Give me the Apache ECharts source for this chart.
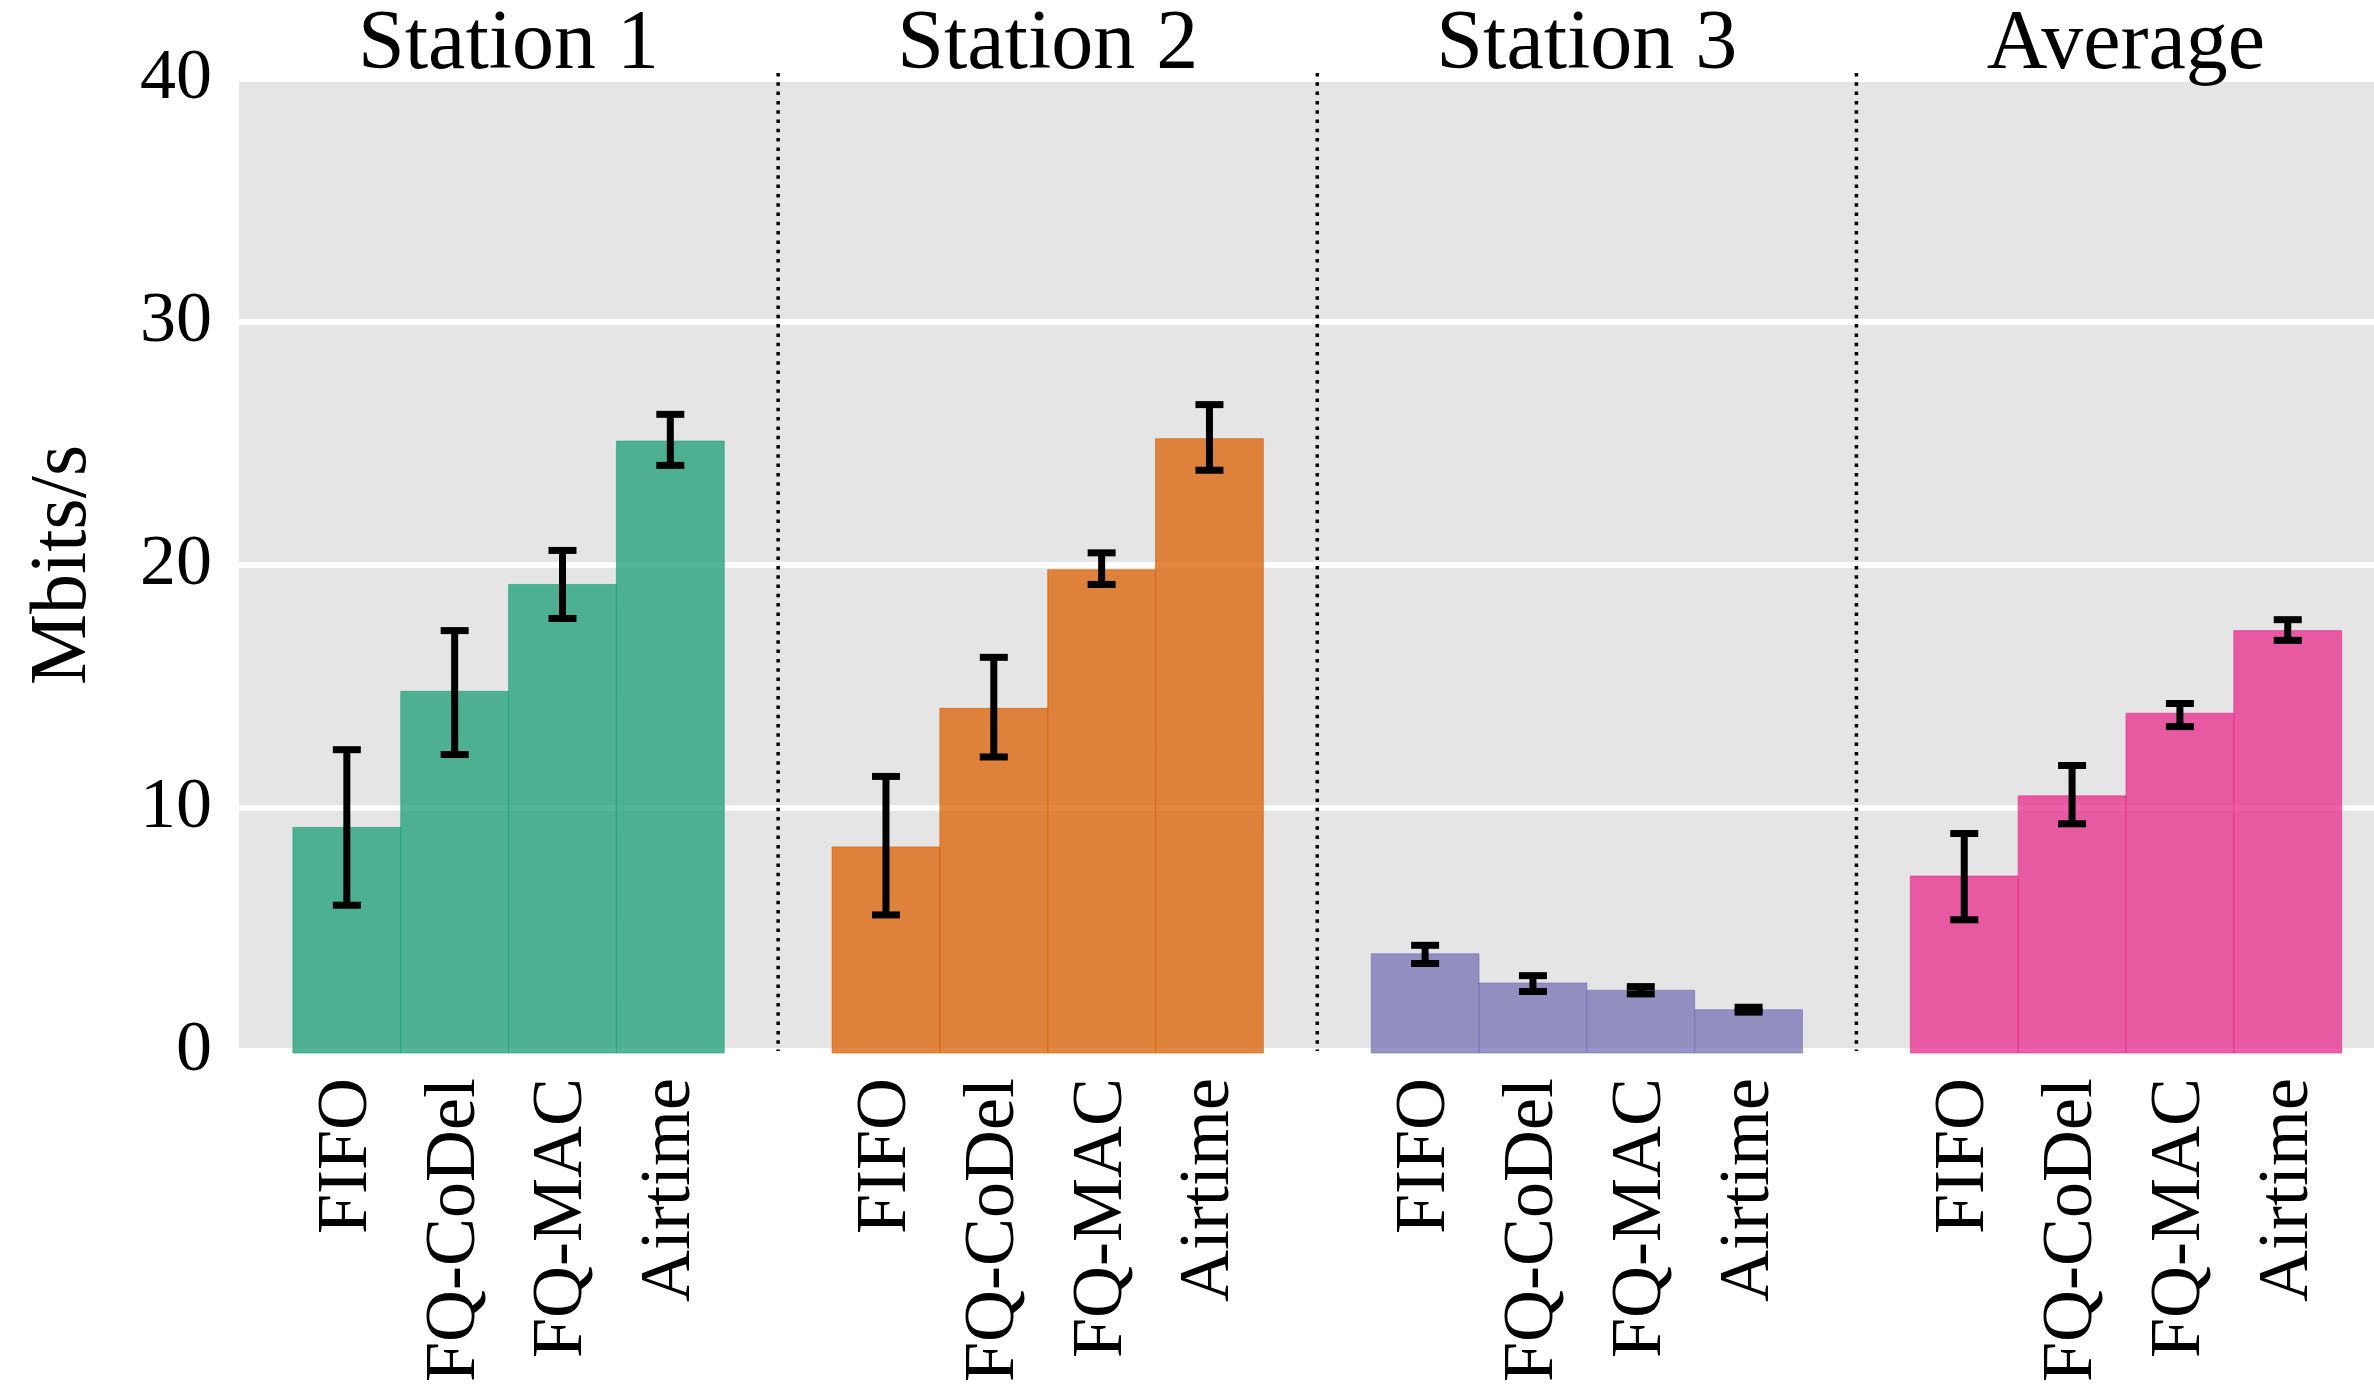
<!DOCTYPE html>
<html>
<head>
<meta charset="utf-8">
<script src="https://cdn.jsdelivr.net/npm/echarts@6/dist/echarts.min.js"></script>
<style>
  html, body { margin: 0; padding: 0; background: #ffffff; }
  #chart { width: 2374px; height: 1395px; }
</style>
</head>
<body>
<div id="chart"></div>
<script>
// Queueing schemes compared within every group
const methods = ['FIFO', 'FQ-CoDel', 'FQ-MAC', 'Airtime'];
// Group headings
const groups = ['Station 1', 'Station 2', 'Station 3', 'Average'];
// Y axis ticks (Mbits/s) and title
const yTicks = [0, 10, 20, 30, 40];
const yTitle = 'Mbits/s';

// Mean throughput per scheme, with lower / upper error-bar bounds
const station1Mean = [9.2, 14.8, 19.2, 25.1];
const station1Low  = [6.0, 12.2, 17.8, 24.1];
const station1High = [12.4, 17.3, 20.6, 26.2];

const station2Mean = [8.4, 14.1, 19.8, 25.2];
const station2Low  = [5.6, 12.1, 19.2, 23.9];
const station2High = [11.3, 16.2, 20.5, 26.6];

const station3Mean = [4.0, 2.8, 2.5, 1.7];
const station3Low  = [3.6, 2.45, 2.35, 1.6];
const station3High = [4.35, 3.1, 2.65, 1.8];

const averageMean = [7.2, 10.5, 13.9, 17.3];
const averageLow  = [5.4, 9.35, 13.35, 16.9];
const averageHigh = [8.95, 11.75, 14.3, 17.75];

const groupData = [
  [station1Mean, station1Low, station1High],
  [station2Mean, station2Low, station2High],
  [station3Mean, station3Low, station3High],
  [averageMean, averageLow, averageHigh]
];

const baseColors = ['#1b9e77', '#d95f02', '#7570b3', '#e7298a'];
const fillColors = ['rgba(27,158,119,0.75)', 'rgba(217,95,2,0.75)', 'rgba(117,112,179,0.75)', 'rgba(231,41,138,0.75)'];

const SLOTS_PER_GROUP = 5;
const FONT = 'Liberation Serif';

// each group: half-slot gap, four bars, half-slot gap
function slotX(g, k) { return g * SLOTS_PER_GROUP + 1 + k; }

const barSeries = groupData.map(function (d, g) {
  const rows = methods.map(function (m, k) {
    return [slotX(g, k), d[0][k], d[1][k], d[2][k]];
  });
  return {
    type: 'custom',
    name: groups[g],
    data: rows,
    z: 3,
    clip: false,
    renderItem: function (params, api) {
      const x = api.value(0), v = api.value(1), lo = api.value(2), hi = api.value(3);
      const tl = api.coord([x - 0.5, v]);
      const br = api.coord([x + 0.5, 0]);
      const pl = api.coord([x, lo]);
      const ph = api.coord([x, hi]);
      const cap = 14;
      const lw = 7;
      return {
        type: 'group',
        children: [
          { type: 'rect',
            shape: { x: tl[0], y: tl[1], width: br[0] - tl[0], height: br[1] - tl[1] + 2 },
            style: { fill: fillColors[g], stroke: baseColors[g], lineWidth: 1, strokeOpacity: 0.6 } },
          { type: 'line',
            shape: { x1: pl[0], y1: pl[1], x2: ph[0], y2: ph[1] },
            style: { stroke: '#000', lineWidth: lw } },
          { type: 'line',
            shape: { x1: pl[0] - cap, y1: pl[1], x2: pl[0] + cap, y2: pl[1] },
            style: { stroke: '#000', lineWidth: lw } },
          { type: 'line',
            shape: { x1: ph[0] - cap, y1: ph[1], x2: ph[0] + cap, y2: ph[1] },
            style: { stroke: '#000', lineWidth: lw } }
        ]
      };
    }
  };
});

// dotted separators between the groups
const separatorSeries = {
  type: 'custom',
  data: [1, 2, 3].map(function (i) { return [i * SLOTS_PER_GROUP]; }),
  z: 2,
  clip: false,
  silent: true,
  renderItem: function (params, api) {
    const x = api.value(0);
    const top = api.coord([x, 40]);
    const bot = api.coord([x, 0]);
    return {
      type: 'line',
      shape: { x1: top[0], y1: top[1] - 6, x2: bot[0], y2: bot[1] },
      style: { stroke: '#000', lineWidth: 3.5, lineDash: [3.5, 5.8] }
    };
  }
};

// group headings above the plot area
const titleSeries = {
  type: 'custom',
  data: groups.map(function (name, g) { return [g * SLOTS_PER_GROUP + 2.5, name]; }),
  z: 4,
  clip: false,
  silent: true,
  renderItem: function (params, api) {
    const p = api.coord([api.value(0), 40]);
    return {
      type: 'text',
      style: {
        x: p[0], y: p[1] - 33,
        text: groups[params.dataIndex],
        fill: '#000',
        font: '84px "Liberation Serif"',
        textAlign: 'center',
        textVerticalAlign: 'middle'
      }
    };
  }
};

// vertical y-axis title, centred on the value range
const yTitleSeries = {
  type: 'custom',
  data: [[0, 20]],
  z: 4,
  clip: false,
  silent: true,
  renderItem: function (params, api) {
    const p = api.coord([0, 20]);
    return {
      type: 'text',
      x: p[0] - 175,
      y: p[1],
      rotation: Math.PI / 2,
      style: {
        x: 0, y: 0,
        text: yTitle,
        fill: '#000',
        font: '80px "Liberation Serif"',
        textAlign: 'center',
        textVerticalAlign: 'middle'
      }
    };
  }
};

const chart = echarts.init(document.getElementById('chart'), null, { renderer: 'canvas' });
chart.setOption({
  animation: false,
  backgroundColor: '#ffffff',
  textStyle: { fontFamily: FONT },
  grid: { left: 239, right: 0, top: 79, bottom: 344, show: true, backgroundColor: '#e5e5e5', borderWidth: 0 },
  xAxis: {
    type: 'value',
    min: 0,
    max: 19.8,
    interval: 1,
    axisLine: { show: false },
    axisTick: { show: false },
    splitLine: { show: false },
    axisLabel: {
      rotate: 90,
      margin: 27,
      color: '#000',
      fontFamily: FONT,
      fontSize: 72,
      showMaxLabel: false,
      formatter: function (val) {
        const i = Math.round(val);
        if (Math.abs(val - i) > 0.01) return '';
        const slot = i % SLOTS_PER_GROUP;
        if (slot === 0) return '';
        return methods[slot - 1];
      }
    }
  },
  yAxis: {
    type: 'value',
    min: yTicks[0],
    max: yTicks[yTicks.length - 1],
    interval: 10,
    axisLine: { show: false },
    axisTick: { show: false },
    axisLabel: { color: '#000', fontFamily: FONT, fontSize: 72, margin: 27 },
    splitLine: { show: true, lineStyle: { color: '#ffffff', width: 6 } }
  },
  series: [separatorSeries].concat(barSeries, [titleSeries, yTitleSeries])
});
</script>
</body>
</html>
